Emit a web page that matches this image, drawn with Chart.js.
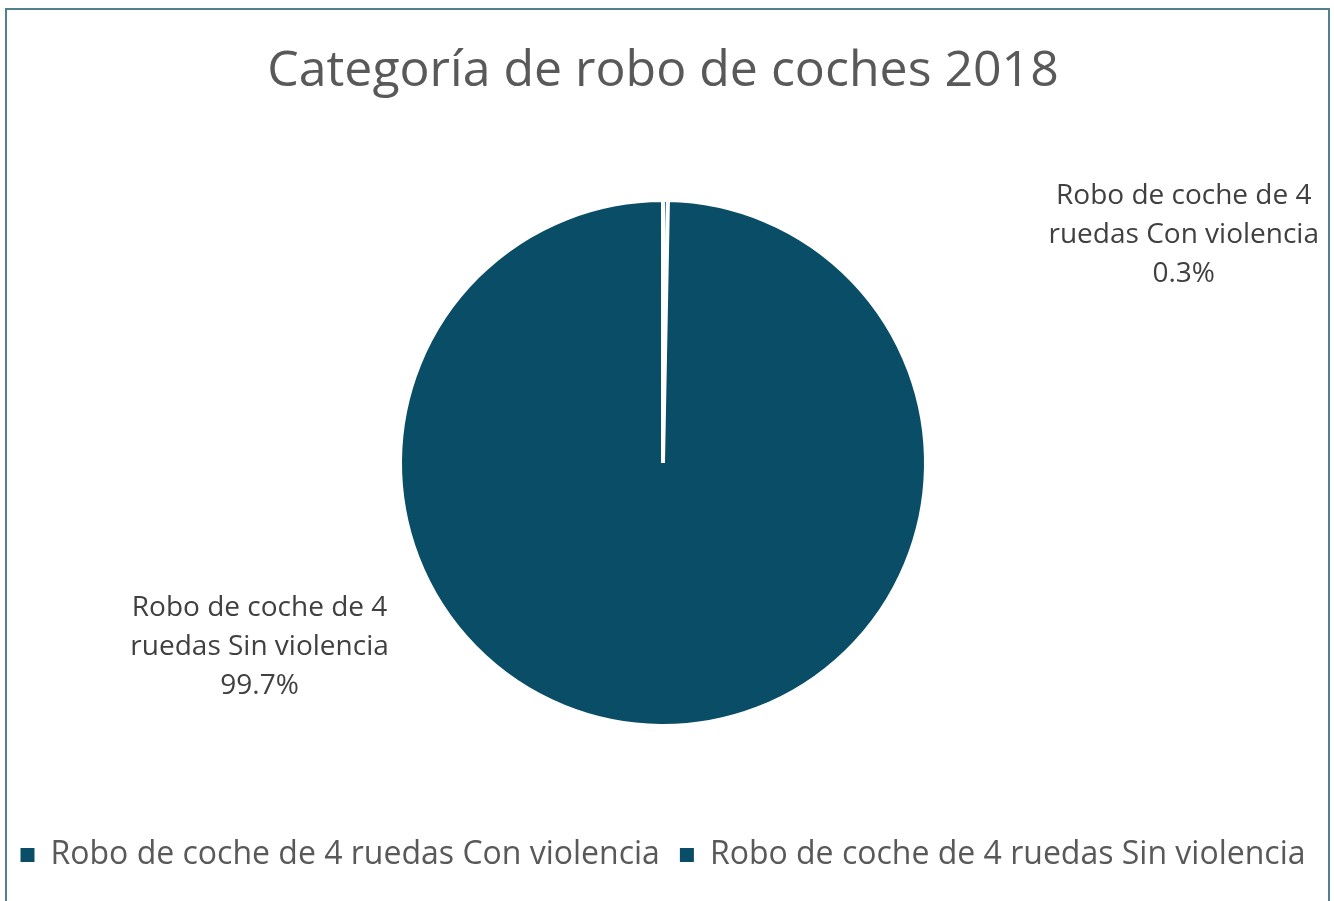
<!DOCTYPE html>
<html>
<head>
<meta charset="utf-8">
<script src="https://cdn.jsdelivr.net/npm/chart.js@4"></script>
<style>
  html, body { margin: 0; padding: 0; background: #fff; }
  #wrap { position: relative; width: 1334px; height: 901px; overflow: hidden; }
  #frame { position: absolute; left: 5px; top: 8px; width: 1325px; height: 900px;
           border: 2px solid #52808d; box-sizing: border-box; pointer-events: none; }
  canvas { position: absolute; left: 0; top: 0; }
</style>
</head>
<body>
<div id="wrap">
  <canvas id="pieChart" width="1334" height="901"></canvas>
  <div id="frame"></div>
</div>
<script>
const categories = [
  "Robo de coche de 4 ruedas Con violencia",
  "Robo de coche de 4 ruedas Sin violencia"
];
// label text split the way it wraps in the picture
const labelLines = [
  ["Robo de coche de 4", "ruedas Con violencia"],
  ["Robo de coche de 4", "ruedas Sin violencia"]
];
const shares = [0.3, 99.7];
const sliceColors = ["#0a4d67", "#0a4d67"];

//TODO labels outside the pie, offset in units of radius
const outsideLabels = {
  id: "outsideLabels",
  afterDatasetsDraw(chart, args, opts) {
    const ctx = chart.ctx;
    const meta = chart.getDatasetMeta(0);
    const data = chart.data.datasets[0].data;
    ctx.save();
    ctx.font = opts.font;
    ctx.fillStyle = opts.color;
    ctx.textAlign = "center";
    ctx.textBaseline = "middle";
    meta.data.forEach((arc, i) => {
      const off = opts.offsets[i];
      const x = arc.x + off[0] * arc.outerRadius;
      const y = arc.y + off[1] * arc.outerRadius;
      const lines = labelLines[i].concat([data[i].toFixed(1) + "%"]);
      lines.forEach((t, j) => {
        ctx.fillText(t, x, y + (j - 1) * opts.lineGap);
      });
    });
    ctx.restore();
  }
};

const data = {
  labels: categories,
  datasets: [
    {
      data: shares,
      backgroundColor: sliceColors,
      borderColor: "#ffffff",
      borderWidth: 4,
      radius: 263,
    },
  ],
};

let config = {
  type: "pie",
  data: data,
  plugins: [outsideLabels],
  options: {
    responsive: false,
    animation: false,
    layout: {
      padding: { left: 0, right: 8, top: 0, bottom: 20 },
    },
    plugins: {
      title: {
        display: true,
        text: "Categoría de robo de coches 2018",
        color: "#595959",
        font: { family: "Open Sans", size: 50, weight: "normal" },
        padding: { top: 42, bottom: 5 },
      },
      legend: {
        position: "bottom",
        labels: {
          color: "#595959",
          font: { family: "Open Sans", size: 32 },
          boxWidth: 14,
          boxHeight: 14,
          padding: 20,
          generateLabels: function (chart) {
            const items = Chart.overrides.pie.plugins.legend.labels.generateLabels(chart);
            items.forEach((it) => {
              it.strokeStyle = it.fillStyle;
              it.lineWidth = 0;
            });
            return items;
          },
        },
      },
      tooltip: { enabled: false },
      outsideLabels: {
        font: "28px 'Open Sans'",
        color: "#404040",
        lineGap: 39,
        offsets: [
          [1.98, -0.865],
          [-1.534, 0.70],
        ],
      },
    },
  },
};

const ctx = document.getElementById("pieChart").getContext("2d");
let myChart = new Chart(ctx, config);
</script>
</body>
</html>
